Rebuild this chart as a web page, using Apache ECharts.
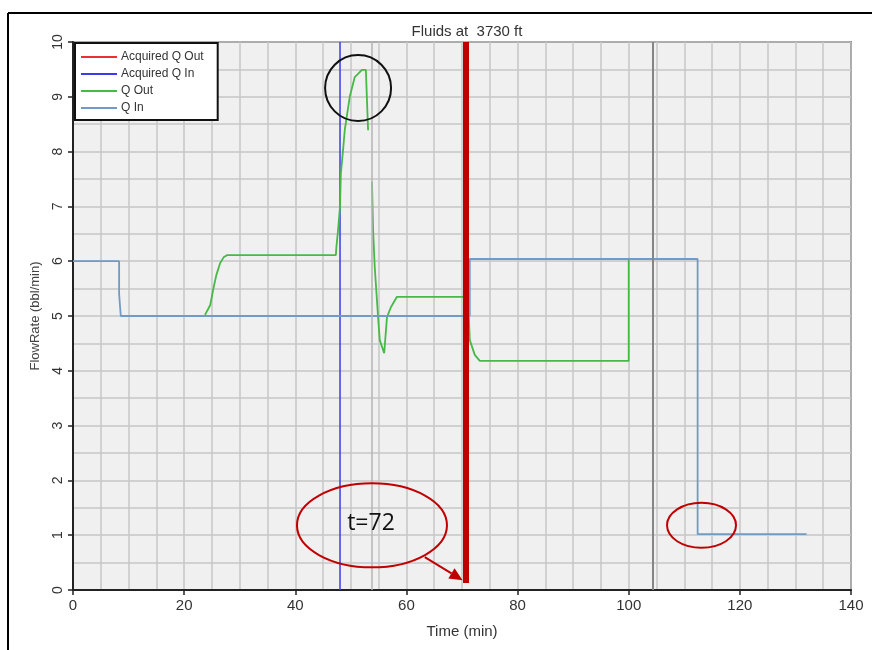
<!DOCTYPE html>
<html>
<head>
<meta charset="utf-8">
<script src="https://cdn.jsdelivr.net/npm/echarts@6/dist/echarts.min.js"></script>
<style>
  html, body { margin: 0; padding: 0; background: #fff; }
  #chart { width: 872px; height: 650px; }
</style>
</head>
<body>
<div id="chart"></div>
<script>
// values
const qInX = [0, 8.3, 8.3, 8.6, 8.6, 71.4, 71.4, 112.4, 112.4, 132.0];
const qInY = [6, 6, 5.4, 5.4, 5, 5, 6.04, 6.04, 1.02, 1.02];

const qOutX = [23.75, 24.1, 24.7, 25.2, 25.8, 26.5, 27.1, 27.7, 47.3, 47.4, 47.7, 48.05, 48.2, 48.6, 48.9, 49.8, 50.7, 52.0, 52.7, 53.1,
  null,
  53.8, 54.0, 54.3, 54.9, 55.2, 56.0, 56.5, 57.2, 58.3, 71.1, 71.4, 72.3, 73.2, 100.0, 100.0];
const qOutY = [5.02, 5.05, 5.2, 5.47, 5.75, 5.97, 6.07, 6.11, 6.11, 6.26, 6.57, 7.0, 7.6, 8.03, 8.39, 9.0, 9.36, 9.49, 9.49, 8.39,
  null,
  7.45, 6.57, 5.89, 4.98, 4.56, 4.32, 4.98, 5.16, 5.35, 5.35, 4.56, 4.29, 4.18, 4.18, 6.02];

const acqInX = [48.05, 48.05];
const acqInY = [0, 10];

const grayMarks = [104.3];
const lightMarks = [53.8];
const redMarkX = 70.6;

const xTicks = [0, 20, 40, 60, 80, 100, 120, 140];
const yTicks = [0, 1, 2, 3, 4, 5, 6, 7, 8, 9, 10];

function pairs(xs, ys) {
  return xs.map((x, i) => (x === null ? [null, null] : [x, ys[i]]));
}

const chart = echarts.init(document.getElementById('chart'));
const font = 'Liberation Sans, Arial, sans-serif';

chart.setOption({
  animation: false,
  title: {
    text: 'Fluids at  3730 ft',
    left: 462,
    textAlign: 'center',
    top: 19,
    textStyle: {fontFamily: font, fontSize: 15, fontWeight: 'normal', color: '#333'}
  },
  legend: {
    data: ['Acquired Q Out', 'Acquired Q In', 'Q Out', 'Q In'],
    orient: 'vertical',
    left: 75,
    top: 43,
    padding: [8, 14, 6, 6],
    itemGap: 5,
    itemWidth: 36,
    itemHeight: 2,
    icon: 'rect',
    backgroundColor: '#fff',
    borderColor: '#111',
    borderWidth: 2,
    borderRadius: 0,
    textStyle: {fontFamily: font, fontSize: 12, lineHeight: 11, color: '#333', padding: [0, 0, 0, -1]}
  },
  grid: {
    left: 73,
    top: 42,
    width: 778,
    height: 548,
    show: true,
    backgroundColor: '#f0f0f0',
    borderColor: '#333',
    borderWidth: 1.5
  },
  xAxis: {
    type: 'value',
    min: xTicks[0],
    max: xTicks[xTicks.length - 1],
    interval: 20,
    name: 'Time (min)',
    nameLocation: 'middle',
    nameGap: 34,
    nameTextStyle: {fontFamily: font, fontSize: 15, color: '#333'},
    axisLine: {show: true, onZero: false, lineStyle: {color: '#222', width: 2}},
    axisTick: {show: true, length: 5, lineStyle: {color: '#222', width: 1.5}},
    axisLabel: {fontFamily: font, fontSize: 15, color: '#333', margin: 8},
    splitLine: {show: true, lineStyle: {color: '#c6c6c6', width: 1.5}},
    minorTick: {show: false, splitNumber: 4},
    minorSplitLine: {show: true, lineStyle: {color: '#c6c6c6', width: 1.5}}
  },
  yAxis: {
    type: 'value',
    min: yTicks[0],
    max: yTicks[yTicks.length - 1],
    interval: 1,
    name: 'FlowRate (bbl/min)',
    nameLocation: 'middle',
    nameGap: 31,
    nameTextStyle: {fontFamily: font, fontSize: 13, color: '#444'},
    axisLine: {show: true, onZero: false, lineStyle: {color: '#222', width: 2}},
    axisTick: {show: true, length: 5, lineStyle: {color: '#222', width: 1.5}},
    axisLabel: {fontFamily: font, fontSize: 14, color: '#333', rotate: 90, margin: 8},
    splitLine: {show: true, lineStyle: {color: '#c6c6c6', width: 1.5}},
    minorTick: {show: false, splitNumber: 2},
    minorSplitLine: {show: true, lineStyle: {color: '#c6c6c6', width: 1.5}}
  },
  series: [
    {
      name: 'Acquired Q Out',
      type: 'line',
      symbol: 'none',
      data: [],
      lineStyle: {color: '#e8322f', width: 2},
      itemStyle: {color: '#e8322f'}
    },
    {
      name: 'Acquired Q In',
      type: 'line',
      symbol: 'none',
      data: pairs(acqInX, acqInY),
      lineStyle: {color: '#3a3aea', width: 1.5},
      itemStyle: {color: '#3a3aea'},
      z: 3
    },
    {
      name: 'Q Out',
      type: 'line',
      symbol: 'none',
      connectNulls: false,
      data: pairs(qOutX, qOutY),
      lineStyle: {color: '#46b946', width: 1.8},
      itemStyle: {color: '#46b946'},
      z: 4
    },
    {
      name: 'Q In',
      type: 'line',
      symbol: 'none',
      data: pairs(qInX, qInY),
      lineStyle: {color: '#6f9bc6', width: 1.8},
      itemStyle: {color: '#6f9bc6'},
      z: 4
    },
    {
      name: 'markers',
      type: 'line',
      symbol: 'none',
      data: [],
      z: 2,
      markLine: {
        symbol: 'none',
        silent: true,
        label: {show: false},
        data: [
          ...grayMarks.map(v => ({xAxis: v, lineStyle: {color: '#858585', width: 2, type: 'solid'}})),
          ...lightMarks.map(v => ({xAxis: v, lineStyle: {color: '#b4b4b4', width: 1.5, type: 'solid'}}))
        ]
      }
    },
    {
      name: 'annotation',
      type: 'line',
      symbol: 'none',
      data: [],
      z: 6,
      markLine: {
        symbol: 'none',
        silent: true,
        label: {show: false},
        data: [
          [{coord: [redMarkX, 0.13], lineStyle: {color: '#c00000', width: 6, type: 'solid'}},
           {coord: [redMarkX, 10]}]
        ]
      }
    }
  ]
});

// hand-drawn annotations, placed in data coordinates
const circleAt = [51.3, 9.16];
const bigEllipseAt = [53.8, 1.18];
const smallEllipseAt = [113.1, 1.18];
const arrowFrom = [63.3, 0.6];
const arrowTo = [70.1, 0.18];

const px = p => chart.convertToPixel({gridIndex: 0}, p);
const c1 = px(circleAt), e1 = px(bigEllipseAt), e2 = px(smallEllipseAt);
const a0 = px(arrowFrom), a1 = px(arrowTo);
const ang = Math.atan2(a1[1] - a0[1], a1[0] - a0[0]);
const hl = 13, hw = 6;
const back = [a1[0] - hl * Math.cos(ang), a1[1] - hl * Math.sin(ang)];
const head = [
  a1,
  [back[0] + hw * Math.sin(ang), back[1] - hw * Math.cos(ang)],
  [back[0] - hw * Math.sin(ang), back[1] + hw * Math.cos(ang)]
];

chart.setOption({
  graphic: [
    {type: 'line', shape: {x1: 8, y1: 13, x2: 872, y2: 13}, style: {stroke: '#000', lineWidth: 2}},
    {type: 'line', shape: {x1: 8, y1: 13, x2: 8, y2: 650}, style: {stroke: '#000', lineWidth: 2}},
    {type: 'circle', z: 20, shape: {cx: c1[0], cy: c1[1], r: 33},
      style: {fill: 'none', stroke: '#111', lineWidth: 2}},
    {type: 'ellipse', z: 20, shape: {cx: e1[0], cy: e1[1], rx: 75, ry: 42},
      style: {fill: 'none', stroke: '#c00000', lineWidth: 2}},
    {type: 'ellipse', z: 20, shape: {cx: e2[0], cy: e2[1], rx: 34.5, ry: 22.5},
      style: {fill: 'none', stroke: '#c00000', lineWidth: 2}},
    {type: 'text', z: 20, x: e1[0] - 1, y: e1[1] - 2,
      style: {text: 't=72', font: '23px "Open Sans", sans-serif', fill: '#111',
        textAlign: 'center', textVerticalAlign: 'middle'}},
    {type: 'line', z: 20, shape: {x1: a0[0], y1: a0[1], x2: back[0], y2: back[1]},
      style: {stroke: '#c00000', lineWidth: 2}},
    {type: 'polygon', z: 20, shape: {points: head}, style: {fill: '#c00000'}}
  ]
});
</script>
</body>
</html>
